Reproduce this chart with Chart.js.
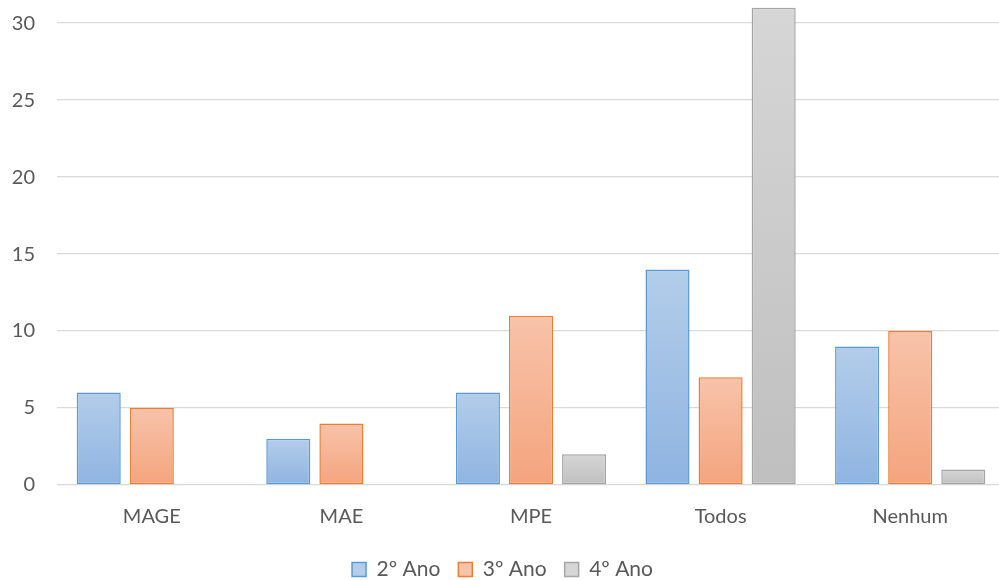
<!DOCTYPE html>
<html>
<head>
<meta charset="utf-8">
<script src="https://cdn.jsdelivr.net/npm/chart.js@4"></script>
<style>
  html, body { margin: 0; padding: 0; background: #fff; overflow: hidden; }
  #wrap { width: 1005px; height: 614px; margin-top: -34px; }
</style>
</head>
<body>
<div id="wrap"><canvas id="myChart"></canvas></div>
<script>
const categories = ['MAGE', 'MAE', 'MPE', 'Todos', 'Nenhum'];
const seriesNames = ['2º Ano', '3º Ano', '4º Ano'];
const ano2 = [6, 3, 6, 14, 9];
const ano3 = [5, 4, 11, 7, 10];
const ano4 = [0, 0, 2, 31, 1];
const yTicks = [0, 5, 10, 15, 20, 25, 30];

// gradient top, gradient bottom, border
const colors = [
    ['#b3cdea', '#8fb4e1', '#5b9bd5'],
    ['#f8c3aa', '#f4a47d', '#ed7d31'],
    ['#d6d6d6', '#bfbfbf', '#a5a5a5']
];

let canvasChart = document.getElementById('myChart').getContext('2d');

function fill(i) {
    return function (ctx) {
        const c = colors[i];
        if (ctx.type !== 'data' || !ctx.chart.scales.y) return c[0];
        const y = ctx.chart.scales.y;
        const top = y.getPixelForValue(ctx.raw || 0);
        const bot = y.getPixelForValue(0);
        if (bot - top < 1) return c[1];
        const g = ctx.chart.ctx.createLinearGradient(0, top, 0, bot);
        g.addColorStop(0, c[0]);
        g.addColorStop(1, c[1]);
        return g;
    };
}

const sets = [ano2, ano3, ano4].map((d, i) => ({
    label: seriesNames[i],
    data: d,
    backgroundColor: fill(i),
    borderColor: colors[i][2],
    borderWidth: ctx => (ctx.raw === 0 ? 0 : 1.5),
    borderSkipped: false,
    categoryPercentage: 0.84,
    barPercentage: 0.83
}));

const config = {
    type: 'bar',
    data: { labels: categories, datasets: sets },
    options: {
        responsive: true,
        maintainAspectRatio: false,
        animation: false,
        layout: { padding: { top: 0, bottom: -10, left: 0, right: 0 } },
        plugins: {
            tooltip: { enabled: false },
            legend: {
                position: 'bottom',
                labels: {
                    color: '#595959',
                    font: { family: 'Lato', size: 21 },
                    boxWidth: 14,
                    boxHeight: 14,
                    padding: 18,
                    generateLabels: chart => seriesNames.map((n, i) => ({
                        text: n,
                        fillStyle: colors[i][0],
                        strokeStyle: colors[i][2],
                        lineWidth: 1.5,
                        datasetIndex: i,
                        fontColor: '#595959'
                    }))
                }
            }
        },
        scales: {
            x: {
                grid: { display: false },
                border: { display: false },
                ticks: { color: '#595959', font: { family: 'Lato', size: 20 }, padding: 12 }
            },
            y: {
                min: 0,
                max: 31.5,
                afterBuildTicks: axis => { axis.ticks = yTicks.map(v => ({ value: v })); },
                afterFit: axis => { axis.width = 57; },
                grid: { color: '#d9d9d9', lineWidth: 1.3, drawTicks: false },
                border: { display: false },
                ticks: { color: '#595959', font: { family: 'Lato', size: 20 }, padding: 22 }
            }
        }
    }
};

let myChart = new Chart(canvasChart, config);
</script>
</body>
</html>
